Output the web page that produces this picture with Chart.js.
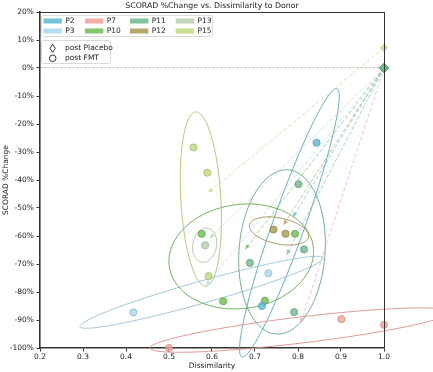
<!DOCTYPE html>
<html><head><meta charset="utf-8">
<script src="https://cdn.jsdelivr.net/npm/chart.js@4/dist/chart.umd.min.js"></script>
<style>html,body{margin:0;padding:0;background:#fff}#wrap{width:433px;height:372px}</style>
</head><body><div id="wrap"><canvas id="c" width="433" height="372"></canvas></div>
<script>
// ---------- data ----------
const patients = ['P2','P3','P7','P10','P11','P12','P13','P15'];
const colors   = ['#5bb9d3','#a9d8ee','#f2a099','#6cbd4f','#6cb98e','#a59a4e','#b6cfae','#bfd87a'];

// post FMT points (dissimilarity, SCORAD % change)
const p2Dissim  = [0.843, 0.716];          const p2Change  = [-26.7, -85.0];
const p3Dissim  = [0.417, 0.731];          const p3Change  = [-87.3, -73.3];
const p7Dissim  = [0.500, 0.901, 1.000];   const p7Change  = [-100.0, -89.7, -91.7];
const p10Dissim = [0.576, 0.793, 0.626, 0.723]; const p10Change = [-59.2, -59.2, -83.3, -83.1];
const p11Dissim = [0.814, 0.688, 0.791, 0.801]; const p11Change = [-64.8, -69.6, -87.2, -41.5];
const p12Dissim = [0.743, 0.771];          const p12Change = [-57.7, -59.2];
const p13Dissim = [0.584];                 const p13Change = [-63.3];
const p15Dissim = [0.557, 0.589, 0.592];   const p15Change = [-28.4, -37.4, -74.3];

// post placebo points
const placeboDissim = [1, 1, 1, 1, 1, 1, 1, 1];
const placeboChange = [0, 0, 0, 0, 0, 0, 0, 7.2];

// arrow end points (placebo -> post FMT centre)
const arrowTipX = [0.788, 0.586, 0.806, 0.677, 0.7735, 0.766, 0.595, 0.591];
const arrowTipY = [-53.3, -77.5, -91.2, -64.8, -66.8, -56.1, -60.8, -44.5];

// confidence ellipses: centre and two conjugate semi-axes (data units)
const ellCX = [0.780, 0.5756, 0.805, 0.668, 0.7628, 0.7558, 0.583, 0.574];
const ellCY = [-55.3, -80.1, -93.6, -67.3, -65.7, -58.2, -63.3, -46.8];
const ellAX = [0.1105, 0.2826, 0.3488, 0.1674, 0.014, 0.0686, 0.0035, -0.0116];
const ellAY = [47.9, 12.27, 6.44, 3.58, 29.3, -2.15, 6.08, 31.1];
const ellBX = [0.0351, 0.0070, 0.0036, 0.0167, 0.0998, -0.006, 0.0279, 0.0465];
const ellBY = [-1.9, -3.79, -4.62, -18.4, -1.11, -4.54, 0, 0.41];

const xTicks = [0.2, 0.3, 0.4, 0.5, 0.6, 0.7, 0.8, 0.9, 1.0];
const yTicks = [20, 10, 0, -10, -20, -30, -40, -50, -60, -70, -80, -90, -100];

const titleText = 'SCORAD %Change vs. Dissimilarity to Donor';
const xLabel = 'Dissimilarity';
const yLabel = 'SCORAD %Change';
// ---------- end data ----------

function rgb(hex){ const n = parseInt(hex.slice(1),16); return [(n>>16)&255,(n>>8)&255,n&255]; }
function rgba(hex, a, f){
  f = f || 1;
  const [r,g,b] = rgb(hex).map(v=>Math.round(v*f));
  return `rgba(${r},${g},${b},${a})`;
}

const FONT = "'DejaVu Sans', sans-serif";
Chart.defaults.font.family = FONT;
Chart.defaults.font.size = 7.5;
Chart.defaults.color = '#222';

const fmtDissim = [p2Dissim,p3Dissim,p7Dissim,p10Dissim,p11Dissim,p12Dissim,p13Dissim,p15Dissim];
const fmtChange = [p2Change,p3Change,p7Change,p10Change,p11Change,p12Change,p13Change,p15Change];

const datasets = [];
patients.forEach((p,i)=>{
  datasets.push({
    label: p+' arrow',
    data: [{x:placeboDissim[i], y:placeboChange[i]},{x:arrowTipX[i], y:arrowTipY[i]}],
    showLine: true, borderColor: rgba(colors[i],0.65), borderWidth: 0.9, borderDash: [4,2],
    pointRadius: 0, clip: false, order: 3
  });
});
patients.forEach((p,i)=>{
  datasets.push({
    label: p,
    data: fmtDissim[i].map((v,k)=>({x:v, y:fmtChange[i][k]})),
    pointRadius: 3.6, pointStyle: 'circle',
    pointBackgroundColor: rgba(colors[i],0.8), pointBorderColor: rgba(colors[i],0.9,0.85),
    pointBorderWidth: 0.8, clip: false, order: 1
  });
});
// placebo markers; drawn so that the green ones end on top of the pile at (1, 0)
[0,1,2,5,6,3,7,4].reverse().forEach(i=>{
  datasets.push({
    label: patients[i]+' placebo',
    data: [{x:placeboDissim[i], y:placeboChange[i]}],
    pointRadius: i===7 ? 3.5 : 4.8, pointStyle: 'rectRot',
    pointBackgroundColor: rgba(colors[i],0.7), pointBorderColor: rgba(colors[i],0.8,0.9),
    pointBorderWidth: 0.8, clip: false, order: 2
  });
});

const decor = {
  id: 'decor',
  beforeDatasetsDraw(chart){
    const {ctx, scales:{x,y}} = chart;
    ctx.save();
    ctx.lineWidth = 0.95;
    for(let i=0;i<patients.length;i++){
      const cx = x.getPixelForValue(ellCX[i]), cy = y.getPixelForValue(ellCY[i]);
      const ax = x.getPixelForValue(ellCX[i]+ellAX[i])-cx, ay = y.getPixelForValue(ellCY[i]+ellAY[i])-cy;
      const bx = x.getPixelForValue(ellCX[i]+ellBX[i])-cx, by = y.getPixelForValue(ellCY[i]+ellBY[i])-cy;
      ctx.strokeStyle = rgba(colors[i], 0.95, 0.9);
      ctx.beginPath();
      for(let k=0;k<=160;k++){
        const t = k/160*2*Math.PI;
        const px = cx + ax*Math.cos(t) + bx*Math.sin(t);
        const py = cy + ay*Math.cos(t) + by*Math.sin(t);
        if(k===0) ctx.moveTo(px,py); else ctx.lineTo(px,py);
      }
      ctx.closePath();
      ctx.stroke();
    }
    ctx.restore();
  },
  afterDatasetsDraw(chart){
    const {ctx, scales:{x,y}} = chart;
    ctx.save();
    for(let i=0;i<patients.length;i++){
      const x0 = x.getPixelForValue(placeboDissim[i]), y0 = y.getPixelForValue(placeboChange[i]);
      const x1 = x.getPixelForValue(arrowTipX[i]), y1 = y.getPixelForValue(arrowTipY[i]);
      const L = Math.hypot(x1-x0, y1-y0), ux=(x1-x0)/L, uy=(y1-y0)/L;
      const hl = 5, hw = 2.2;
      ctx.fillStyle = rgba(colors[i],0.75);
      ctx.beginPath();
      ctx.moveTo(x1,y1);
      ctx.lineTo(x1-ux*hl - uy*hw, y1-uy*hl + ux*hw);
      ctx.lineTo(x1-ux*hl + uy*hw, y1-uy*hl - ux*hw);
      ctx.closePath();
      ctx.fill();
    }
    ctx.restore();
  },
  afterDraw(chart){
    const {ctx, chartArea:a} = chart;
    ctx.save();
    // top & right spines
    ctx.strokeStyle = '#333'; ctx.lineWidth = 1;
    ctx.beginPath();
    ctx.moveTo(a.left, a.top+0.5); ctx.lineTo(a.right, a.top+0.5);
    ctx.moveTo(a.right+0.5, a.top); ctx.lineTo(a.right+0.5, a.bottom);
    ctx.stroke();
    // title and axis labels
    ctx.fillStyle = '#222';
    ctx.font = '7.8px ' + FONT;
    ctx.textAlign = 'center'; ctx.textBaseline = 'middle';
    ctx.fillText(titleText, (a.left+a.right)/2, 6);
    ctx.font = '7.5px ' + FONT;
    ctx.fillText(xLabel, (a.left+a.right)/2, 366);
    ctx.save();
    ctx.translate(6, (a.top+a.bottom)/2);
    ctx.rotate(-Math.PI/2);
    ctx.fillText(yLabel, 0, 0);
    ctx.restore();

    // legend 1 (patients)
    ctx.fillStyle = 'rgba(255,255,255,0.85)';
    ctx.strokeStyle = '#d0d0d0'; ctx.lineWidth = 0.8;
    roundRect(ctx, 41.5, 15.5, 171, 21, 2); ctx.fill(); ctx.stroke();
    const colX = [43.5, 85, 130, 175.7];
    const rowY = [21, 31];
    ctx.textAlign = 'left';
    for(let i=0;i<patients.length;i++){
      const c = Math.floor(i/2), r = i%2;
      ctx.fillStyle = rgba(colors[i],0.85);
      ctx.fillRect(colX[c], rowY[r]-2.5, 18.3, 5);
      ctx.fillStyle = '#222';
      ctx.fillText(patients[i], colX[c]+21.8, rowY[r]);
    }
    // legend 2 (markers)
    ctx.fillStyle = 'rgba(255,255,255,0.85)';
    ctx.strokeStyle = '#d0d0d0';
    roundRect(ctx, 41.5, 40.5, 69, 23, 2); ctx.fill(); ctx.stroke();
    ctx.strokeStyle = '#222'; ctx.lineWidth = 0.9;
    ctx.beginPath();
    ctx.moveTo(52.7, 44.2); ctx.lineTo(55.3, 48.3); ctx.lineTo(52.7, 52.4); ctx.lineTo(50.1, 48.3); ctx.closePath();
    ctx.stroke();
    ctx.beginPath(); ctx.arc(52.7, 58.3, 3.3, 0, 2*Math.PI); ctx.stroke();
    ctx.fillStyle = '#222';
    ctx.fillText('post Placebo', 65, 48.3);
    ctx.fillText('post FMT', 65, 58.3);
    ctx.restore();
  }
};
function roundRect(ctx,x,y,w,h,r){
  ctx.beginPath();
  ctx.moveTo(x+r,y); ctx.lineTo(x+w-r,y); ctx.quadraticCurveTo(x+w,y,x+w,y+r);
  ctx.lineTo(x+w,y+h-r); ctx.quadraticCurveTo(x+w,y+h,x+w-r,y+h);
  ctx.lineTo(x+r,y+h); ctx.quadraticCurveTo(x,y+h,x,y+h-r);
  ctx.lineTo(x,y+r); ctx.quadraticCurveTo(x,y,x+r,y); ctx.closePath();
}

new Chart(document.getElementById('c'), {
  type: 'scatter',
  data: { datasets },
  options: {
    responsive: false, animation: false, devicePixelRatio: 1,
    layout: { padding: { left: 0, right: 49, top: 12, bottom: 0 } },
    plugins: { legend: { display: false }, tooltip: { enabled: false }, title: { display: false } },
    scales: {
      x: {
        type: 'linear', min: 0.2, max: 1.0,
        afterFit(s){ s.height = 24; },
        afterBuildTicks(s){ s.ticks = xTicks.map(v=>({value:v})); },
        ticks: { callback: v => Number(v).toFixed(1), padding: 1, color: '#222', maxRotation: 0, autoSkip: false },
        grid: { color: 'rgba(0,0,0,0)', drawOnChartArea: false, tickColor: '#333', tickLength: 3.5, tickWidth: 1 },
        border: { display: true, color: '#333', width: 1.6 }
      },
      y: {
        type: 'linear', min: -100, max: 20,
        afterFit(s){ s.width = 40; },
        afterBuildTicks(s){ s.ticks = yTicks.map(v=>({value:v})); },
        ticks: { callback: v => v + '%', padding: 2.5, color: '#222', autoSkip: false },
        grid: { color: ctx => (ctx.tick && ctx.tick.value === 0) ? '#b5b5b5' : 'rgba(0,0,0,0)',
                drawOnChartArea: true, tickColor: '#333', tickLength: 3.5, tickWidth: 1, lineWidth: 1 },
        border: { display: true, color: '#333', width: 1.6, dash: [2,2] }
      }
    }
  },
  plugins: [decor]
});
</script>
</body></html>
